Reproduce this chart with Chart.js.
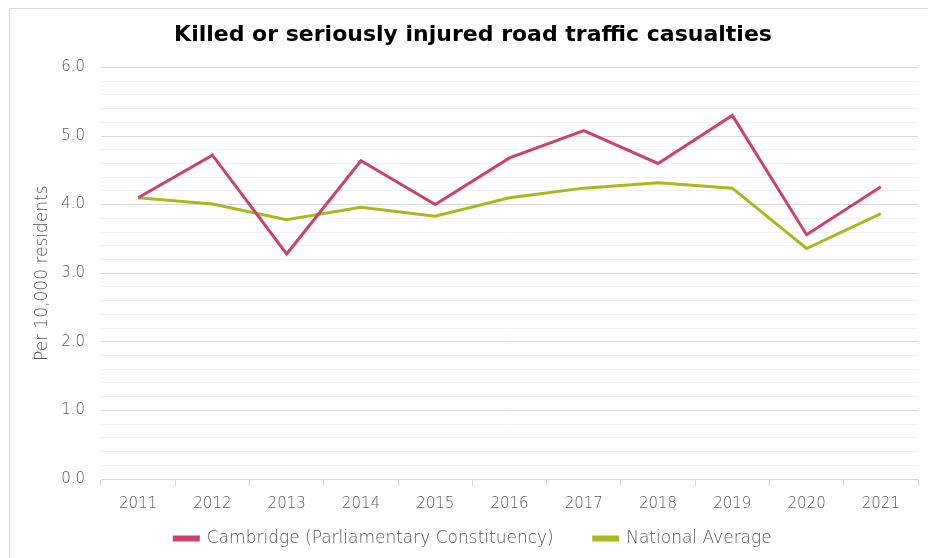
<!DOCTYPE html>
<html>
<head>
<meta charset="utf-8">
<script src="https://cdn.jsdelivr.net/npm/chart.js@4"></script>
<style>
  body { margin: 0; background: #fff; overflow: hidden; }
  #frame { position: absolute; left: 9px; top: 8px; width: 960px; height: 600px; border: 1px solid #d9d9d9; }
  #wrap { position: absolute; left: 0; top: 0; width: 928px; height: 558px; }
</style>
</head>
<body>
<div id="frame"></div>
<div id="wrap"><canvas id="myChart" width="928" height="558"></canvas></div>
<script>
const years = ['2011', '2012', '2013', '2014', '2015', '2016', '2017', '2018', '2019', '2020', '2021'];
const cambridge = [4.10, 4.72, 3.28, 4.64, 4.00, 4.68, 5.08, 4.60, 5.30, 3.56, 4.26];
const national = [4.10, 4.01, 3.78, 3.96, 3.83, 4.10, 4.24, 4.32, 4.24, 3.36, 3.87];

const lightFont = 'DejaVu Sans';
const tickFont = { family: lightFont, size: 15, weight: '200' };
const greyText = '#595959';

// legend padding is used both between rows and between items,
// so widen the item gap only after the layout is done
const legendGap = {
    id: 'legendGap',
    beforeLayout(chart) {
        chart.options.plugins.legend.labels.padding = 10;
    },
    afterLayout(chart) {
        const lg = chart.legend;
        const extra = 30;
        lg.options.labels.padding = 10 + extra;
        lg.top -= extra + 5;
        lg.lineWidths = lg.lineWidths.map(w => w + extra * lg.legendItems.length);
    }
};

const ctx = document.getElementById('myChart');
new Chart(ctx, {
    type: 'line',
    data: {
        labels: years,
        datasets: [{
            label: 'Cambridge (Parliamentary Constituency)',
            data: cambridge,
            borderColor: '#c9436e',
            backgroundColor: '#c9436e',
            borderWidth: 3,
            pointRadius: 0,
            tension: 0
        }, {
            label: 'National Average',
            data: national,
            borderColor: '#a9b81e',
            backgroundColor: '#a9b81e',
            borderWidth: 3,
            pointRadius: 0,
            tension: 0
        }]
    },
    plugins: [legendGap],
    options: {
        responsive: false,
        animation: false,
        layout: { padding: { left: 28, right: 10, top: 0, bottom: -4 } },
        plugins: {
            title: {
                display: true,
                text: 'Killed or seriously injured road traffic casualties',
                color: '#000',
                font: { family: 'DejaVu Sans', size: 22, weight: 'bold' },
                padding: { top: 22, bottom: 19 }
            },
            legend: {
                position: 'bottom',
                labels: {
                    color: greyText,
                    font: { family: lightFont, size: 17, weight: '200' },
                    boxWidth: 24,
                    boxHeight: 3,
                    padding: 10
                }
            },
            tooltip: { enabled: false }
        },
        scales: {
            x: {
                offset: true,
                grid: {
                    offset: true,
                    drawOnChartArea: false,
                    drawTicks: true,
                    tickLength: 7,
                    color: '#d9d9d9'
                },
                border: { display: true, color: '#d9d9d9' },
                ticks: { color: greyText, font: tickFont, padding: 9, maxRotation: 0 },
                afterFit: (s) => { s.height = 46; }
            },
            y: {
                min: 0,
                max: 6,
                title: {
                    display: true,
                    text: 'Per 10,000 residents',
                    color: greyText,
                    font: { family: lightFont, size: 17, weight: '200' },
                    padding: { top: 4, bottom: 4 }
                },
                border: { display: false },
                grid: {
                    drawTicks: false,
                    color: (c) => {
                        const v = c.tick ? c.tick.value : 0;
                        return Math.abs(v - Math.round(v)) < 1e-6 ? '#d9d9d9' : '#f0f0f0';
                    }
                },
                ticks: {
                    stepSize: 0.2,
                    autoSkip: false,
                    color: greyText,
                    font: tickFont,
                    padding: 16,
                    callback: function(value) {
                        return Math.abs(value - Math.round(value)) < 1e-6 ? value.toFixed(1) : '';
                    }
                },
                afterFit: (s) => { s.width = 73; }
            }
        }
    }
});
</script>
</body>
</html>
